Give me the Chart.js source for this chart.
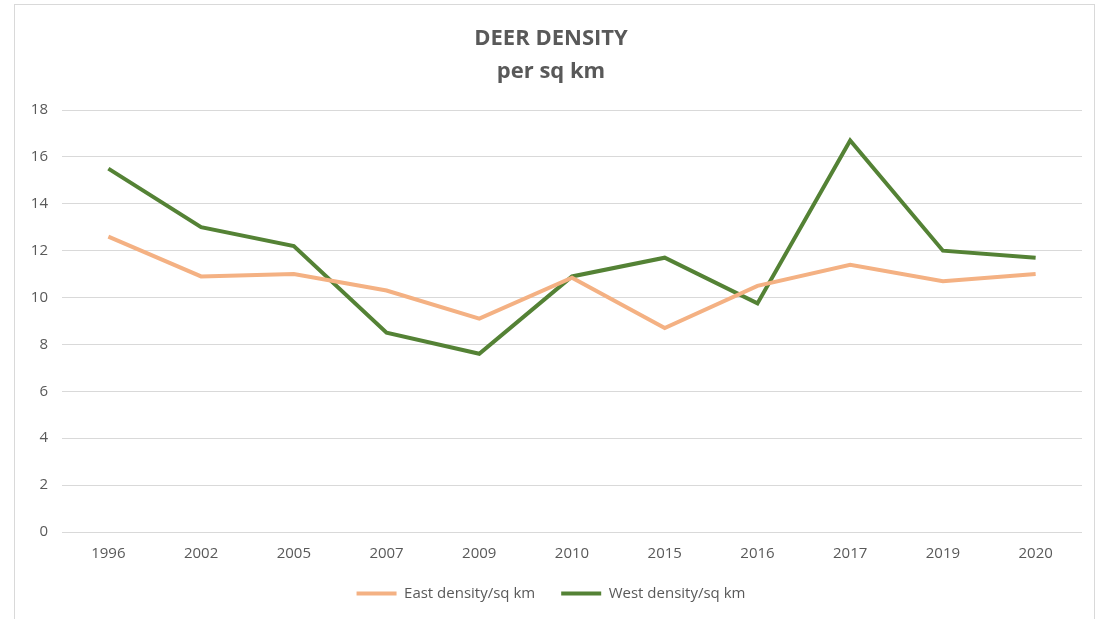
<!DOCTYPE html>
<html>
<head>
<meta charset="utf-8">
<script src="https://cdn.jsdelivr.net/npm/chart.js@4.4.0/dist/chart.umd.min.js"></script>
<style>
    html, body { margin: 0; padding: 0; background: #fff; }
    #wrap { position: relative; width: 1108px; height: 619px; overflow: hidden; }
    #frame { position: absolute; left: 14px; top: 4px; width: 1081px; height: 640px; border: 1px solid #d9d9d9; box-sizing: border-box; }
    canvas { position: absolute; left: 0; top: 0; }
</style>
</head>
<body>
<div id="wrap">
    <div id="frame"></div>
    <canvas id="deerChart" width="1108" height="619"></canvas>
</div>
<script>
const years = ['1996', '2002', '2005', '2007', '2009', '2010', '2015', '2016', '2017', '2019', '2020'];
const eastDensity = [12.6, 10.9, 11.0, 10.3, 9.1, 10.85, 8.7, 10.5, 11.4, 10.7, 11.0];
const westDensity = [15.5, 13.0, 12.2, 8.5, 7.6, 10.9, 11.7, 9.75, 16.7, 12.0, 11.7];
const titleLines = ['DEER DENSITY', 'per sq km'];

const textColor = '#595959';
const fontFamily = "'Open Sans', 'Liberation Sans', sans-serif";

function initChart() {
    const ctx = document.getElementById('deerChart').getContext('2d');

    return new Chart(ctx, {
        type: 'line',
        data: {
            labels: years,
            datasets: [
                {
                    label: 'East density/sq km',
                    data: eastDensity,
                    borderColor: '#F4B183',
                    backgroundColor: '#F4B183',
                    borderWidth: 4,
                    pointRadius: 0,
                    tension: 0
                },
                {
                    label: 'West density/sq km',
                    data: westDensity,
                    borderColor: '#548235',
                    backgroundColor: '#548235',
                    borderWidth: 4,
                    pointRadius: 0,
                    tension: 0
                }
            ]
        },
        options: {
            responsive: false,
            animation: false,
            layout: { padding: { left: 20, right: 26, top: 14, bottom: 8 } },
            plugins: {
                title: {
                    display: true,
                    text: titleLines,
                    color: textColor,
                    font: { family: fontFamily, size: 22, weight: 'bold', lineHeight: 1.5 },
                    padding: { top: 8, bottom: 22 }
                },
                legend: {
                    position: 'bottom',
                    labels: {
                        color: textColor,
                        font: { family: fontFamily, size: 15 },
                        boxWidth: 40,
                        boxHeight: 4,
                        padding: 26,
                        generateLabels: (chart) => {
                            const items = Chart.defaults.plugins.legend.labels.generateLabels(chart);
                            items.forEach(i => { i.lineWidth = 0; });
                            return items;
                        }
                    }
                },
                tooltip: { enabled: false }
            },
            scales: {
                y: {
                    min: 0,
                    max: 18,
                    ticks: {
                        stepSize: 2,
                        color: textColor,
                        font: { family: fontFamily, size: 15 },
                        padding: 14
                    },
                    grid: { color: '#d9d9d9', lineWidth: 1, drawTicks: false },
                    border: { display: false },
                    afterFit: (scale) => { scale.width = 42; }
                },
                x: {
                    offset: true,
                    ticks: {
                        color: textColor,
                        font: { family: fontFamily, size: 15 },
                        padding: 13,
                        maxRotation: 0
                    },
                    grid: { display: false, drawTicks: false },
                    border: { display: false },
                    afterFit: (scale) => { scale.height -= 16; }
                }
            }
        }
    });
}

document.addEventListener('DOMContentLoaded', initChart);
</script>
</body>
</html>
